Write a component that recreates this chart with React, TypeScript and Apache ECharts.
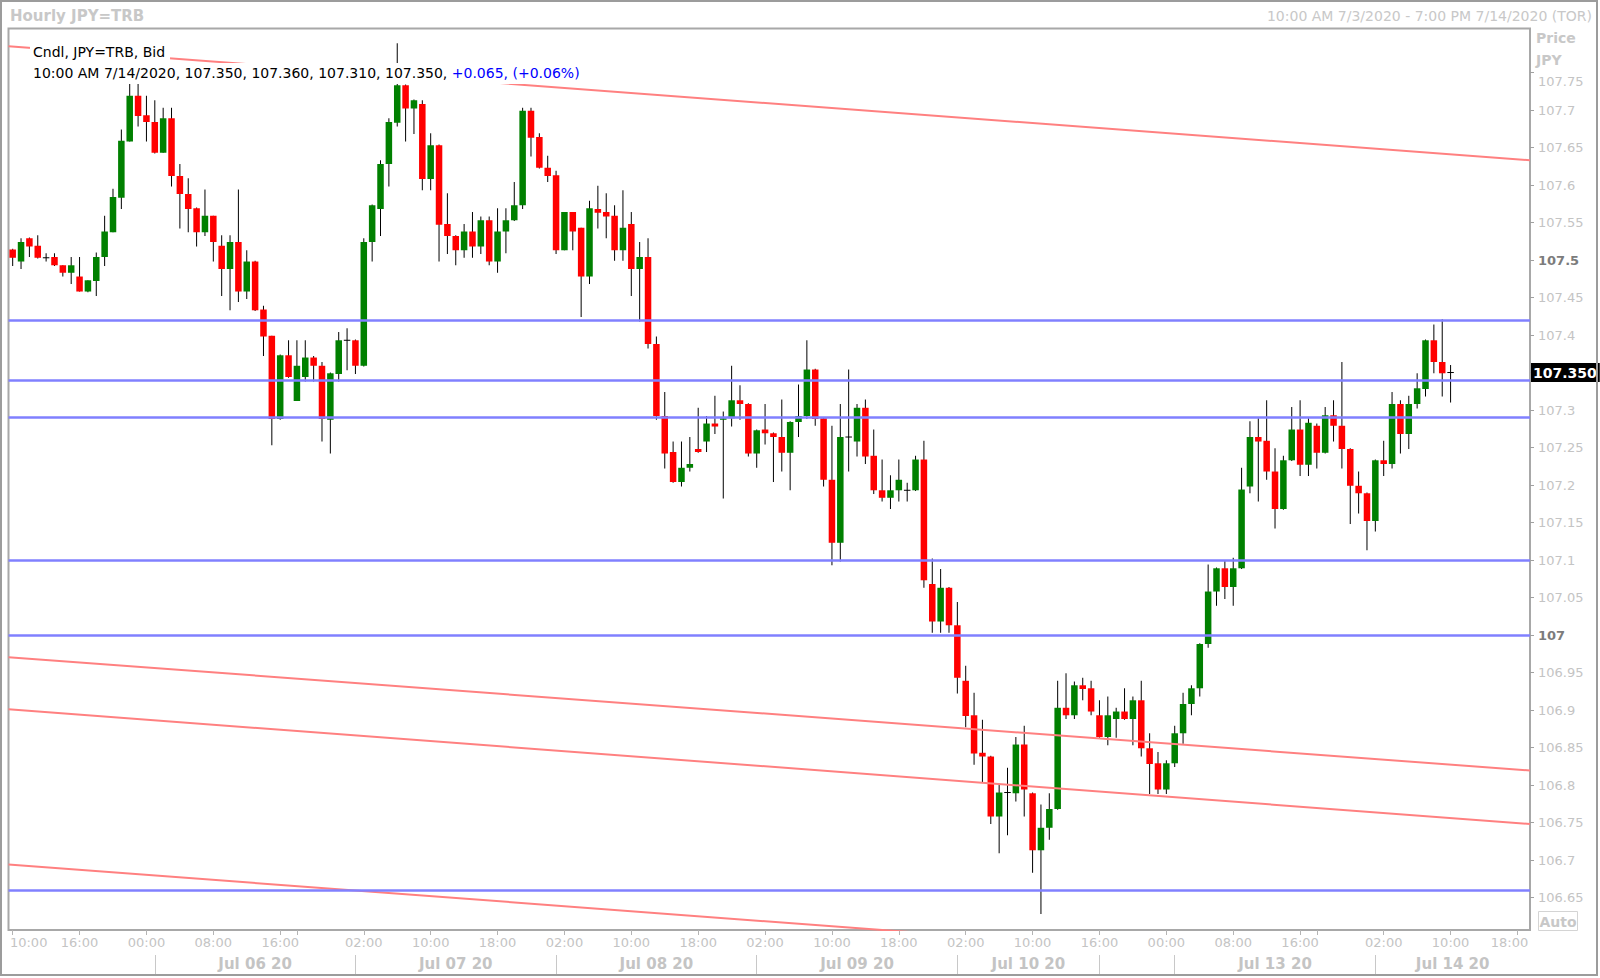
import React, { useEffect, useRef } from 'react';
import * as echarts from 'echarts';

// Hourly JPY=TRB candles, bar 0 = 10:00 7/3/2020, bar 172 = 10:00 7/14/2020
const opens = [
  107.514, 107.498, 107.529, 107.519, 107.503, 107.504, 107.493, 107.483, 107.478, 107.458,
  107.472, 107.504, 107.537, 107.583, 107.658, 107.719, 107.693, 107.684, 107.643, 107.689,
  107.612, 107.588, 107.569, 107.537, 107.559, 107.519, 107.488, 107.524, 107.458, 107.498,
  107.434, 107.399, 107.288, 107.373, 107.312, 107.344, 107.370, 107.359, 107.287, 107.348,
  107.393, 107.393, 107.359, 107.524, 107.568, 107.628, 107.683, 107.733, 107.702, 107.708,
  107.608, 107.653, 107.548, 107.532, 107.513, 107.538, 107.518, 107.553, 107.498, 107.538,
  107.553, 107.573, 107.699, 107.664, 107.623, 107.613, 107.513, 107.564, 107.543, 107.478,
  107.568, 107.564, 107.559, 107.513, 107.548, 107.488, 107.504, 107.388, 107.292, 107.244,
  107.204, 107.223, 107.248, 107.258, 107.282, 107.287, 107.289, 107.313, 107.308, 107.242,
  107.274, 107.269, 107.264, 107.243, 107.284, 107.292, 107.354, 107.289, 107.207, 107.123,
  107.264, 107.258, 107.303, 107.239, 107.193, 107.183, 107.193, 107.193, 107.193, 107.234,
  107.068, 107.018, 107.063, 107.013, 106.939, 106.893, 106.843, 106.838, 106.758, 106.790,
  106.789, 106.854, 106.789, 106.713, 106.743, 106.768, 106.903, 106.893, 106.933, 106.929,
  106.893, 106.864, 106.888, 106.898, 106.888, 106.913, 106.849, 106.829, 106.794, 106.829,
  106.869, 106.908, 106.929, 106.988, 107.058, 107.089, 107.064, 107.089, 107.198, 107.264,
  107.259, 107.218, 107.168, 107.233, 107.274, 107.227, 107.279, 107.243, 107.293, 107.279,
  107.248, 107.199, 107.189, 107.152, 107.233, 107.228, 107.308, 107.268, 107.308, 107.328,
  107.393, 107.364, 107.350,
];
const highs = [
  107.515, 107.529, 107.530, 107.533, 107.509, 107.509, 107.493, 107.504, 107.504, 107.473,
  107.510, 107.559, 107.595, 107.674, 107.735, 107.735, 107.719, 107.713, 107.703, 107.703,
  107.628, 107.609, 107.570, 107.594, 107.559, 107.533, 107.533, 107.594, 107.513, 107.499,
  107.439, 107.399, 107.374, 107.393, 107.393, 107.393, 107.372, 107.364, 107.350, 107.404,
  107.409, 107.394, 107.529, 107.574, 107.633, 107.689, 107.789, 107.734, 107.714, 107.713,
  107.669, 107.654, 107.589, 107.533, 107.548, 107.564, 107.558, 107.558, 107.569, 107.569,
  107.604, 107.703, 107.703, 107.669, 107.639, 107.619, 107.564, 107.564, 107.543, 107.579,
  107.599, 107.589, 107.573, 107.593, 107.564, 107.524, 107.529, 107.398, 107.324, 107.258,
  107.258, 107.264, 107.303, 107.292, 107.319, 107.298, 107.359, 107.333, 107.309, 107.274,
  107.308, 107.270, 107.314, 107.285, 107.334, 107.393, 107.355, 107.290, 107.279, 107.308,
  107.354, 107.308, 107.314, 107.274, 107.234, 107.213, 107.234, 107.203, 107.239, 107.259,
  107.102, 107.088, 107.064, 107.044, 106.959, 106.923, 106.887, 106.839, 106.800, 106.823,
  106.864, 106.879, 106.790, 106.774, 106.789, 106.939, 106.949, 106.938, 106.943, 106.939,
  106.913, 106.918, 106.903, 106.929, 106.918, 106.939, 106.869, 106.844, 106.833, 106.879,
  106.923, 106.933, 106.989, 107.094, 107.090, 107.099, 107.103, 107.223, 107.285, 107.289,
  107.313, 107.249, 107.239, 107.304, 107.313, 107.289, 107.282, 107.304, 107.313, 107.364,
  107.249, 107.218, 107.190, 107.234, 107.259, 107.324, 107.313, 107.319, 107.349, 107.394,
  107.414, 107.421, 107.360,
];
const lows = [
  107.492, 107.488, 107.504, 107.502, 107.498, 107.492, 107.478, 107.468, 107.458, 107.457,
  107.452, 107.492, 107.537, 107.568, 107.658, 107.678, 107.658, 107.642, 107.643, 107.598,
  107.542, 107.537, 107.518, 107.532, 107.498, 107.452, 107.433, 107.444, 107.448, 107.432,
  107.372, 107.253, 107.287, 107.343, 107.312, 107.338, 107.338, 107.258, 107.242, 107.338,
  107.353, 107.348, 107.358, 107.498, 107.532, 107.598, 107.678, 107.658, 107.668, 107.593,
  107.593, 107.498, 107.508, 107.493, 107.503, 107.503, 107.508, 107.493, 107.483, 107.509,
  107.552, 107.568, 107.638, 107.622, 107.604, 107.508, 107.513, 107.513, 107.424, 107.468,
  107.542, 107.529, 107.499, 107.499, 107.452, 107.418, 107.382, 107.287, 107.222, 107.203,
  107.198, 107.218, 107.243, 107.244, 107.268, 107.182, 107.278, 107.287, 107.238, 107.223,
  107.254, 107.204, 107.218, 107.193, 107.264, 107.288, 107.279, 107.198, 107.093, 107.098,
  107.218, 107.238, 107.228, 107.188, 107.178, 107.168, 107.178, 107.178, 107.192, 107.063,
  107.003, 107.003, 107.003, 106.922, 106.877, 106.827, 106.804, 106.748, 106.709, 106.733,
  106.778, 106.758, 106.683, 106.628, 106.727, 106.767, 106.888, 106.888, 106.913, 106.893,
  106.863, 106.853, 106.863, 106.887, 106.853, 106.838, 106.788, 106.788, 106.788, 106.824,
  106.855, 106.893, 106.918, 106.983, 107.039, 107.048, 107.039, 107.088, 107.189, 107.178,
  107.207, 107.142, 107.167, 107.232, 107.212, 107.212, 107.222, 107.242, 107.258, 107.222,
  107.148, 107.162, 107.113, 107.138, 107.212, 107.222, 107.242, 107.248, 107.302, 107.318,
  107.349, 107.318, 107.310,
];
const closes = [
  107.503, 107.524, 107.518, 107.503, 107.503, 107.493, 107.483, 107.493, 107.458, 107.473,
  107.504, 107.538, 107.584, 107.659, 107.719, 107.692, 107.684, 107.643, 107.689, 107.612,
  107.588, 107.568, 107.537, 107.559, 107.524, 107.488, 107.524, 107.458, 107.498, 107.433,
  107.398, 107.288, 107.373, 107.344, 107.359, 107.370, 107.359, 107.288, 107.349, 107.393,
  107.393, 107.359, 107.524, 107.573, 107.628, 107.684, 107.733, 107.702, 107.713, 107.608,
  107.653, 107.547, 107.532, 107.513, 107.538, 107.518, 107.553, 107.498, 107.538, 107.553,
  107.573, 107.699, 107.663, 107.623, 107.612, 107.513, 107.564, 107.538, 107.478, 107.569,
  107.563, 107.558, 107.513, 107.543, 107.488, 107.504, 107.388, 107.292, 107.242, 107.204,
  107.223, 107.228, 107.244, 107.282, 107.278, 107.289, 107.313, 107.308, 107.242, 107.273,
  107.269, 107.264, 107.243, 107.284, 107.292, 107.354, 107.288, 107.207, 107.123, 107.264,
  107.264, 107.303, 107.238, 107.193, 107.183, 107.193, 107.207, 107.193, 107.234, 107.073,
  107.018, 107.063, 107.013, 106.943, 106.892, 106.842, 106.838, 106.758, 106.790, 106.790,
  106.854, 106.794, 106.713, 106.743, 106.768, 106.903, 106.893, 106.933, 106.928, 106.898,
  106.864, 106.893, 106.898, 106.888, 106.913, 106.849, 106.828, 106.794, 106.829, 106.869,
  106.908, 106.929, 106.988, 107.058, 107.089, 107.064, 107.089, 107.194, 107.264, 107.258,
  107.218, 107.168, 107.233, 107.274, 107.227, 107.283, 107.243, 107.293, 107.279, 107.248,
  107.199, 107.189, 107.152, 107.233, 107.228, 107.308, 107.268, 107.308, 107.329, 107.393,
  107.364, 107.349, 107.350,
];

// Time slots on the axis: 10:00 7/3 ... 19:00 7/14
const barCount = 182;
const hourTickIdx = [0, 8, 16, 24, 32, 34, 42, 50, 58, 66, 74, 82, 90, 98, 106, 114, 122, 130, 138, 146, 154, 156, 164, 172, 180];
const hourLabelIdx = [0, 8, 16, 24, 32, 42, 50, 58, 66, 74, 82, 90, 98, 106, 114, 122, 130, 138, 146, 154, 164, 172, 180];
const hourLabelText = ['10:00', '16:00', '00:00', '08:00', '16:00', '02:00', '10:00', '18:00', '02:00', '10:00', '18:00', '02:00', '10:00', '18:00', '02:00', '10:00', '16:00', '00:00', '08:00', '16:00', '02:00', '10:00', '18:00'];
const dateSepIdx = [17, 41, 65, 89, 113, 130, 139, 163];
const dateLabelPos = [29, 53, 77, 101, 121.5, 151, 172.25];
const dateLabelText = ['Jul 06 20', 'Jul 07 20', 'Jul 08 20', 'Jul 09 20', 'Jul 10 20', 'Jul 13 20', 'Jul 14 20'];

const yTicks = [106.65, 106.7, 106.75, 106.8, 106.85, 106.9, 106.95, 107, 107.05, 107.1, 107.15, 107.2, 107.25, 107.3, 107.35, 107.4, 107.45, 107.5, 107.55, 107.6, 107.65, 107.7, 107.75];
const yBold = [107, 107.5];
const yMin = 106.6067;
const yMax = 107.8087;

// Horizontal support/resistance levels
const levels = [107.422, 107.342, 107.286, 107.104, 107.0, 106.658];
// Descending channel lines (price at left edge, price at right edge)
const trendStart = [107.785, 106.9705, 106.901, 106.694];
const trendEnd = [107.633, 106.8193, 106.748, 106.542];

const lastTimeText = '10:00 AM 7/14/2020';
const changeText = '+0.065, (+0.06%)';

const FONT = '"DejaVu Sans", Verdana, sans-serif';
const LIGHT = '#c4c4c4';

export default function App() {
  const ref = useRef<HTMLDivElement>(null);
  useEffect(() => {
    const chart = echarts.init(ref.current as HTMLDivElement, null, { renderer: 'svg' });
    const xMin = -0.5;
    const xMax = barCount - 0.5;
    const candleData = opens.map((o, i) => [i, o, closes[i], lows[i], highs[i]]);
    const last = opens.length - 1;
    const lastClose = closes[last];
    const legendLine2 = `${lastTimeText}, ${opens[last].toFixed(3)}, ${highs[last].toFixed(3)}, ${lows[last].toFixed(3)}, ${closes[last].toFixed(3)}, `;
    // the current-price box covers the axis label it sits on
    const yLabelValues = yTicks.filter((v) => Math.abs(v - lastClose) > 0.02);

    const trendSeries = trendStart.map((s, k) => ({
      type: 'line',
      xAxisIndex: 0,
      yAxisIndex: 0,
      data: [[xMin, s], [xMax, trendEnd[k]]],
      symbol: 'none',
      silent: true,
      z: 3,
      clip: true,
      lineStyle: { color: '#ff8080', width: 2 },
    }));

    const option: any = {
      animation: false,
      backgroundColor: '#ffffff',
      textStyle: { fontFamily: FONT },
      grid: {
        left: 8.5, top: 28.5, right: 70, bottom: 48,
        show: true, borderColor: '#a8a8a8', borderWidth: 2, backgroundColor: '#ffffff',
      },
      xAxis: [
        {
          type: 'value', min: xMin, max: xMax, position: 'bottom',
          axisLine: { show: false, onZero: false },
          splitLine: { show: false },
          axisTick: { show: true, customValues: hourTickIdx, length: 5, lineStyle: { color: '#b4b4b4' } },
          axisLabel: {
            customValues: hourLabelIdx, margin: 6, color: LIGHT, fontSize: 13, fontFamily: FONT,
            formatter: (v: number) => {
              const k = hourLabelIdx.indexOf(Math.round(v));
              const t = k >= 0 ? hourLabelText[k] : '';
              if (k === 0) return `{l|${t}}`;
              if (k === hourLabelIdx.length - 1) return `{r|${t}}`;
              return t;
            },
            rich: {
              l: { color: LIGHT, fontSize: 13, fontFamily: FONT, padding: [0, 0, 0, 32] },
              r: { color: LIGHT, fontSize: 13, fontFamily: FONT, padding: [0, 16, 0, 0] },
            },
          },
        },
        {
          type: 'value', min: xMin, max: xMax, position: 'bottom', offset: 25,
          axisLine: { show: false, onZero: false },
          splitLine: { show: false },
          axisTick: { show: true, customValues: dateSepIdx, length: 20, lineStyle: { color: '#c8c8c8' } },
          axisLabel: {
            customValues: dateLabelPos, margin: 1, color: LIGHT, fontSize: 15, fontWeight: 'bold', fontFamily: FONT,
            formatter: (v: number) => {
              const k = dateLabelPos.findIndex((p) => Math.abs(p - v) < 0.01);
              return k >= 0 ? dateLabelText[k] : '';
            },
          },
        },
      ],
      yAxis: {
        type: 'value', position: 'right', min: yMin, max: yMax,
        axisLine: { show: false, onZero: false },
        splitLine: { show: false },
        axisTick: { show: true, customValues: yTicks, length: 4, lineStyle: { color: '#a0a0a0' } },
        axisLabel: {
          customValues: yLabelValues, margin: 8, color: LIGHT, fontSize: 13, fontFamily: FONT,
          formatter: (v: number) => {
            const s = String(Math.round(v * 100) / 100);
            if (yBold.some((b) => Math.abs(b - v) < 1e-6)) return `{b|${s}}`;
            if (Math.abs(v - yTicks[yTicks.length - 1]) < 1e-6) return `{t|${s}}`;
            return s;
          },
          rich: {
            b: { color: '#7c7c7c', fontWeight: 'bold', fontSize: 13, fontFamily: FONT },
            t: { color: LIGHT, fontSize: 13, fontFamily: FONT, padding: [18, 0, 0, 0] },
          },
        },
      },
      series: [
        {
          type: 'custom',
          name: 'Cndl',
          xAxisIndex: 0,
          yAxisIndex: 0,
          z: 2,
          clip: true,
          data: candleData,
          encode: { x: 0, y: [1, 2, 3, 4] },
          renderItem: (params: any, api: any) => {
            const x = api.value(0);
            const o = api.value(1);
            const c = api.value(2);
            const l = api.value(3);
            const h = api.value(4);
            const pO = api.coord([x, o]);
            const pC = api.coord([x, c]);
            const pL = api.coord([x, l]);
            const pH = api.coord([x, h]);
            const w = api.size([1, 0])[0] * 0.78;
            const top = Math.min(pO[1], pC[1]);
            const bot = Math.max(pO[1], pC[1]);
            const children: any[] = [
              { type: 'line', shape: { x1: pH[0], y1: pH[1], x2: pL[0], y2: pL[1] }, style: { stroke: '#000', lineWidth: 1 } },
            ];
            if (Math.abs(c - o) < 0.0015) {
              children.push({ type: 'line', shape: { x1: pO[0] - w / 2, y1: pO[1], x2: pO[0] + w / 2, y2: pO[1] }, style: { stroke: '#000', lineWidth: 1 } });
            } else {
              children.push({
                type: 'rect',
                shape: { x: pO[0] - w / 2, y: top, width: w, height: Math.max(bot - top, 1) },
                style: { fill: c > o ? '#008000' : '#ff0000' },
              });
            }
            return { type: 'group', children };
          },
        },
        ...trendSeries,
        {
          type: 'line',
          xAxisIndex: 0,
          yAxisIndex: 0,
          data: [],
          silent: true,
          z: 4,
          markLine: {
            silent: true,
            symbol: ['none', 'none'],
            label: { show: false },
            lineStyle: { color: '#8080ff', width: 2.5, type: 'solid' },
            data: levels.map((v) => ({ yAxis: v })),
          },
        },
        {
          type: 'line',
          xAxisIndex: 0,
          yAxisIndex: 0,
          data: [],
          silent: true,
          z: 5,
          markLine: {
            silent: true,
            symbol: ['none', 'none'],
            lineStyle: { color: 'rgba(0,0,0,0)', width: 1, type: 'solid' },
            label: {
              show: true, position: 'end', distance: 1,
              formatter: lastClose.toFixed(3),
              color: '#ffffff', backgroundColor: '#000000',
              fontWeight: 'bold', fontSize: 14, fontFamily: FONT, padding: [3, 3, 2, 2],
            },
            data: [{ yAxis: lastClose }],
          },
        },
      ],
      graphic: [
        { type: 'rect', z: 100, silent: true, shape: { x: 1, y: 1, width: 1596, height: 974 }, style: { fill: 'none', stroke: '#9c9c9c', lineWidth: 2 } },
        { type: 'text', z: 100, x: 10, y: 15.5, style: { text: 'Hourly JPY=TRB', fill: '#c8c8c8', font: `bold 15px ${FONT}`, verticalAlign: 'middle' } },
        { type: 'text', z: 100, x: 1592, y: 15.5, style: { text: '10:00 AM 7/3/2020 - 7:00 PM 7/14/2020 (TOR)', fill: '#c8c8c8', font: `14px ${FONT}`, align: 'right', verticalAlign: 'middle' } },
        { type: 'text', z: 100, x: 1536, y: 38, style: { text: 'Price', fill: '#c8c8c8', font: `bold 14px ${FONT}`, verticalAlign: 'middle' } },
        { type: 'text', z: 100, x: 1536, y: 59.5, style: { text: 'JPY', fill: '#c8c8c8', font: `bold 14px ${FONT}`, verticalAlign: 'middle' } },
        { type: 'rect', z: 100, shape: { x: 1538.5, y: 911.5, width: 39, height: 19 }, style: { fill: '#fff', stroke: '#d4d4d4', lineWidth: 1 } },
        { type: 'text', z: 101, x: 1558, y: 921.5, style: { text: 'Auto', fill: '#c8c8c8', font: `bold 14px ${FONT}`, align: 'center', verticalAlign: 'middle' } },
        {
          type: 'text', z: 100, x: 30, y: 52,
          style: { text: 'Cndl, JPY=TRB, Bid', fill: '#000', font: `14px ${FONT}`, verticalAlign: 'middle', backgroundColor: '#ffffff', padding: [2, 5, 2, 3] },
        },
        {
          type: 'text', z: 100, x: 30, y: 73.5,
          style: {
            text: `{k|${legendLine2}}{c|${changeText}}`,
            font: `14px ${FONT}`,
            verticalAlign: 'middle',
            backgroundColor: '#ffffff',
            padding: [3, 3, 4, 3],
            rich: {
              k: { fill: '#000000', font: `14px ${FONT}` },
              c: { fill: '#0000ff', font: `14px ${FONT}` },
            },
          },
        },
      ],
    };
    chart.setOption(option);
    return () => chart.dispose();
  }, []);
  return <div ref={ref} style={{ position: 'absolute', left: 0, top: 0, width: 1600, height: 978, background: '#fff' }} />;
}
